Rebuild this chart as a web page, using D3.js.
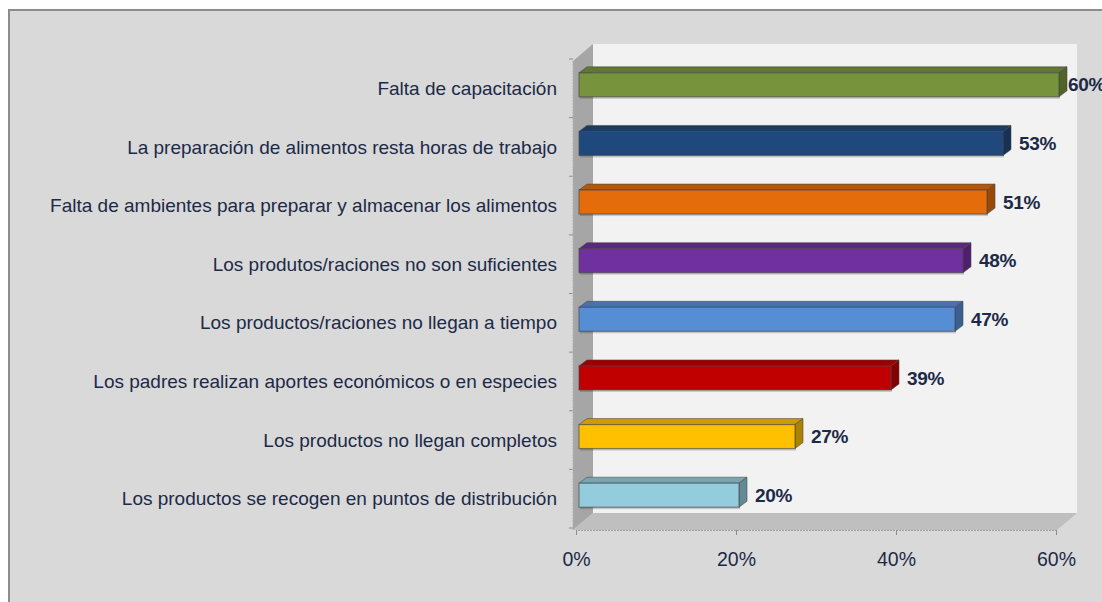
<!DOCTYPE html>
<html>
<head>
<meta charset="utf-8">
<script src="https://cdn.jsdelivr.net/npm/d3@7"></script>
<style>
  html, body { margin: 0; padding: 0; background: #fff; }
  svg { display: block; font-family: "Liberation Sans", Arial, sans-serif; }
</style>
</head>
<body>
<svg id="chart" width="1102" height="602"></svg>
<script>
const categories = [
  "Falta de capacitación",
  "La preparación de alimentos resta horas de trabajo",
  "Falta de ambientes para preparar y almacenar los alimentos",
  "Los produtos/raciones no son suficientes",
  "Los productos/raciones no llegan a tiempo",
  "Los padres realizan aportes económicos o en especies",
  "Los productos no llegan completos",
  "Los productos se recogen en puntos de distribución"
];
const values = [60, 53, 51, 48, 47, 39, 27, 20];
const barColors = ["#77933c", "#1f497d", "#e46c0a", "#7030a0", "#558ed5", "#c00000", "#ffc000", "#93cddd"];
const tickValues = [0, 20, 40, 60];

const textColor = "#1c2a48";
const svg = d3.select("#chart");

// chart frame
svg.append("rect")
  .attr("x", 9).attr("y", 10)
  .attr("width", 1102).attr("height", 602)
  .attr("fill", "#d9d9d9")
  .attr("stroke", "#8c8c8c")
  .attr("stroke-width", 2);

const x = d3.scaleLinear().domain([0, 60]).range([576, 1056]);
const y = d3.scaleBand().domain(categories).range([59, 528]);

// 3d wall depth
const wdx = 20, wdy = -17;
const wallL = x(0) - 3, wallR = x(60) + 1;
const wallT = y.range()[0] + 2, wallB = y.range()[1] + 2;

// back wall
svg.append("rect")
  .attr("x", wallL + wdx).attr("y", wallT + wdy)
  .attr("width", wallR - wallL).attr("height", wallB - wallT)
  .attr("fill", "#f2f2f2");

// left wall
svg.append("polygon")
  .attr("points", [[wallL, wallT], [wallL + wdx, wallT + wdy], [wallL + wdx, wallB + wdy], [wallL, wallB]].join(" "))
  .attr("fill", "#a6a6a6");

// floor
svg.append("polygon")
  .attr("points", [[wallL, wallB], [wallR, wallB], [wallR + wdx, wallB + wdy], [wallL + wdx, wallB + wdy]].join(" "))
  .attr("fill", "#bfbfbf");

// category ticks on left wall edge
const bounds = categories.map(c => y(c)).concat([y.range()[1]]);
svg.append("g").selectAll("line")
  .data(bounds)
  .join("line")
  .attr("x1", wallL - 4).attr("x2", wallL)
  .attr("y1", d => d).attr("y2", d => d)
  .attr("stroke", "#8c8c8c");
svg.append("line")
  .attr("x1", wallL).attr("x2", wallL)
  .attr("y1", wallT).attr("y2", wallB)
  .attr("stroke", "#b0b0b0").attr("stroke-dasharray", "2,1");

// x axis
const xAxis = svg.append("g")
  .attr("transform", `translate(0,${wallB})`)
  .call(d3.axisBottom(x).tickValues(tickValues).tickSize(5).tickPadding(17).tickFormat(d => d + "%"));
xAxis.select(".domain").attr("stroke", "#a0a0a0").attr("stroke-dasharray", "2,1");
xAxis.selectAll(".tick line").attr("stroke", "#8c8c8c");
xAxis.selectAll(".tick text")
  .attr("fill", textColor)
  .style("font-size", "19.5px")
  .style("font-family", "'Liberation Sans', Arial, sans-serif");

// bars
const bh = 24, bdx = 8, bdy = -6;
const data = categories.map((c, i) => ({ cat: c, value: values[i], color: barColors[i] }));
const bars = svg.append("g").selectAll("g")
  .data(data)
  .join("g");

const fy = d => y(d.cat) + y.bandwidth() / 2 - 3.5 - bh / 2;
const fx0 = x(0) + 3;
const fx1 = d => x(d.value) + 3;

// shadow
bars.append("rect")
  .attr("x", fx0 + 1).attr("y", d => fy(d) + 2)
  .attr("width", d => fx1(d) - fx0).attr("height", bh)
  .attr("fill", "rgba(0,0,0,0.18)");

// top face
bars.append("polygon")
  .attr("points", d => [[fx0, fy(d)], [fx1(d), fy(d)], [fx1(d) + bdx, fy(d) + bdy], [fx0 + bdx, fy(d) + bdy]].join(" "))
  .attr("fill", d => d3.color(d.color).darker(0.6))
  .attr("stroke", "rgba(70,70,70,0.55)").attr("stroke-width", 1);

// end face
bars.append("polygon")
  .attr("points", d => [[fx1(d), fy(d)], [fx1(d) + bdx, fy(d) + bdy], [fx1(d) + bdx, fy(d) + bdy + bh], [fx1(d), fy(d) + bh]].join(" "))
  .attr("fill", d => d3.color(d.color).darker(1.1))
  .attr("stroke", "rgba(70,70,70,0.55)").attr("stroke-width", 1);

// front face
bars.append("rect")
  .attr("x", fx0).attr("y", fy)
  .attr("width", d => fx1(d) - fx0).attr("height", bh)
  .attr("fill", d => d.color)
  .attr("stroke", "rgba(70,70,70,0.6)").attr("stroke-width", 1.2);

// value labels
bars.append("text")
  .attr("x", d => Math.min(fx1(d) + bdx + 8, 1068))
  .attr("y", d => fy(d) + bh / 2)
  .attr("dy", "0.35em")
  .attr("fill", textColor)
  .style("font-size", "19px")
  .style("font-weight", "bold")
  .style("letter-spacing", "-0.3px")
  .text(d => d.value + "%");

// category labels
svg.append("g").selectAll("text")
  .data(categories)
  .join("text")
  .attr("x", 557)
  .attr("y", d => y(d) + y.bandwidth() / 2)
  .attr("dy", "0.35em")
  .attr("text-anchor", "end")
  .attr("fill", textColor)
  .style("font-size", "19px")
  .text(d => d);
</script>
</body>
</html>
